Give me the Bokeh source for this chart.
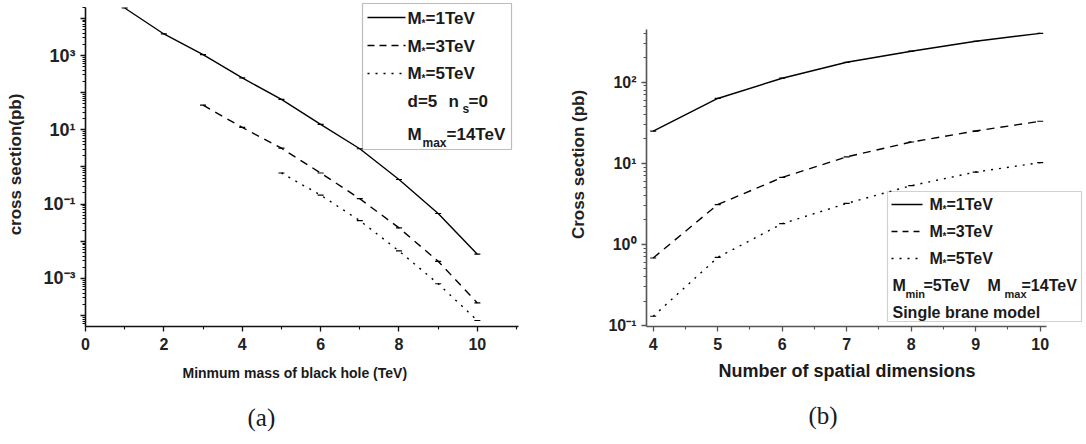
from bokeh.plotting import figure
from bokeh.layouts import row
from bokeh.models import (FixedTicker, CustomJSTickFormatter, Label, Arrow,
                          BoxAnnotation, Range1d, Title)
from bokeh.embed import file_html
from bokeh.resources import INLINE

FONT = "Liberation Sans"
SERIF = "Liberation Serif"

# ---------------- data : panel (a) ----------------
mass_m1 = [1, 2, 3, 4, 5, 6, 7, 8, 9, 10]
sigma_m1 = [1.9e4, 3.8e3, 1.05e3, 250, 66, 14, 3.1, 0.46, 0.056, 0.0045]
mass_m3 = [3, 4, 5, 6, 7, 8, 9, 10]
sigma_m3 = [46, 11.6, 3.2, 0.69, 0.14, 0.023, 0.0029, 2.2e-4]
mass_m5 = [5, 6, 7, 8, 9, 10]
sigma_m5 = [0.69, 0.175, 0.036, 0.0055, 7.2e-4, 7.4e-5]

# ---------------- data : panel (b) ----------------
dims = [4, 5, 6, 7, 8, 9, 10]
sigma_b1 = [25, 63, 112, 176, 241, 320, 400]
sigma_b3 = [0.68, 3.1, 6.7, 12, 18.3, 25, 33]
sigma_b5 = [0.13, 0.69, 1.8, 3.2, 5.3, 7.8, 10.2]

x_ticks_a = [0, 2, 4, 6, 8, 10]
x_minor_a = [1, 3, 5, 7, 9, 11]
x_ticks_b = [4, 5, 6, 7, 8, 9, 10]
x_minor_b = [4.5, 5.5, 6.5, 7.5, 8.5, 9.5]

SUP_JS = """
const e = Math.round(Math.log10(tick));
if (only_odd && e % 2 == 0) { return ""; }
const sup = {"-": "\\u207B", "0": "\\u2070", "1": "\\u00B9", "2": "\\u00B2",
             "3": "\\u00B3", "4": "\\u2074", "5": "\\u2075", "6": "\\u2076"};
let s = "10";
for (const c of String(e)) { s += sup[c]; }
return s;
"""


def log_ticker(lo, hi, top):
    major = [10.0 ** k for k in range(lo, hi + 1) if 10.0 ** k <= top]
    minor = [m * 10.0 ** k for k in range(lo, hi + 1) for m in range(2, 10)
             if m * 10.0 ** k <= top]
    return FixedTicker(ticks=major, minor_ticks=minor)


def style(p, color):
    p.outline_line_color = None
    p.grid.visible = False
    p.background_fill_color = "white"
    p.border_fill_color = "white"
    for ax in p.axis:
        ax.axis_line_color = color
        ax.axis_line_width = 1.6
        ax.major_tick_line_color = color
        ax.minor_tick_line_color = color
        ax.major_tick_line_width = 1.3
        ax.minor_tick_line_width = 1.1
        ax.major_tick_in = 0
        ax.minor_tick_in = 0
        ax.major_tick_out = 5
        ax.minor_tick_out = 3
        ax.major_label_text_font = FONT
        ax.major_label_text_font_style = "bold"
        ax.major_label_text_color = "#222222"
        ax.axis_label_text_font = FONT
        ax.axis_label_text_font_style = "bold"
        ax.axis_label_text_color = "#222222"


def bottom_title(p, text, font, style_, size, offset, standoff):
    p.add_layout(Title(text=text, text_font=font, text_font_style=style_,
                       text_font_size=f"{size}px", text_color="#1a1a1a",
                       align="left", offset=offset, standoff=standoff),
                 "below")


def draw_series(p, x, y, dash, lw=1.4):
    p.line(x, y, line_color="black", line_width=lw, line_dash=dash)
    p.scatter(x, y, marker="dash", size=6, line_color="black", line_width=1.2)


def make_text(p, FL, FB, X, Y, txt, size, align="left"):
    p.add_layout(Label(x=X - FL, y=FB - Y, x_units="screen", y_units="screen",
                       text=txt, text_font=FONT, text_font_style="bold",
                       text_font_size=f"{size}px", text_color="#1a1a1a",
                       text_align=align, text_baseline="middle"))


def make_seg(p, FL, FB, X0, X1, Y, dash, lw=1.4):
    p.add_layout(Arrow(end=None, x_start=X0 - FL, x_end=X1 - FL,
                       y_start=FB - Y, y_end=FB - Y,
                       start_units="screen", end_units="screen",
                       line_color="black", line_width=lw, line_dash=dash))


def make_box(p, FL, FB, X0, X1, Y0, Y1, color):
    p.add_layout(BoxAnnotation(left=X0 - FL, right=X1 - FL,
                               top=FB - Y0, bottom=FB - Y1,
                               left_units="screen", right_units="screen",
                               top_units="screen", bottom_units="screen",
                               fill_color=None, fill_alpha=0,
                               line_color=color, line_width=1.2))


# ======================= panel (a) =======================
FLa, FBa = 85, 326
pa = figure(width=560, height=442, x_range=Range1d(0, 11.05),
            y_range=Range1d(5.1e-5, 2.67e4), y_axis_type="log", title=None,
            output_backend="svg", toolbar_location=None,
            min_border_left=85, min_border_right=42,
            min_border_top=2, min_border_bottom=116)
style(pa, "#111111")
pa.xaxis.ticker = FixedTicker(ticks=x_ticks_a, minor_ticks=x_minor_a)
pa.yaxis.ticker = log_ticker(-5, 4, 2.0e4)
pa.yaxis.bounds = (5.1e-5, 2.0e4)
pa.yaxis.formatter = CustomJSTickFormatter(args=dict(only_odd=True), code=SUP_JS)
pa.xaxis.major_label_text_font_size = "16px"
pa.yaxis.major_label_text_font_size = "18px"
pa.xaxis.major_label_standoff = 6
pa.yaxis.major_label_standoff = 5
pa.yaxis.axis_label = "cross section(pb)"
pa.yaxis.axis_label_text_font_size = "17px"
pa.yaxis.axis_label_standoff = 15
bottom_title(pa, "Minmum mass of black hole (TeV)", FONT, "bold", 14, 97, 21)
bottom_title(pa, "(a)", SERIF, "normal", 25, 162, 20)

draw_series(pa, mass_m1, sigma_m1, "solid")
draw_series(pa, mass_m3, sigma_m3, "8 6")
draw_series(pa, mass_m5, sigma_m5, "2 6")

# legend (a)
make_box(pa, FLa, FBa, 362, 511, 3, 149, "#222222")
make_seg(pa, FLa, FBa, 367, 405, 17, "solid")
make_seg(pa, FLa, FBa, 367, 405, 45, "7 5")
make_seg(pa, FLa, FBa, 367, 405, 73, "2 6")
for yy, lab in [(18, "=1TeV"), (46, "=3TeV"), (73, "=5TeV")]:
    make_text(pa, FLa, FBa, 407, yy, "M", 17)
    make_text(pa, FLa, FBa, 421, yy + 5, "*", 10)
    make_text(pa, FLa, FBa, 425, yy, lab, 17)
make_text(pa, FLa, FBa, 407, 101, "d=5", 17)
make_text(pa, FLa, FBa, 448, 101, "n", 17)
make_text(pa, FLa, FBa, 462, 108, "s", 12)
make_text(pa, FLa, FBa, 468, 101, "=0", 17)
make_text(pa, FLa, FBa, 407, 134, "M", 17)
make_text(pa, FLa, FBa, 422, 142, "max", 12)
make_text(pa, FLa, FBa, 446, 134, "=14TeV", 17)

# ======================= panel (b) =======================
FLb, FBb = 646, 326
pb = figure(width=526, height=442, x_range=Range1d(3.896, 10.687),
            y_range=Range1d(0.0972, 961), y_axis_type="log", title=None,
            output_backend="svg", toolbar_location=None,
            min_border_left=86, min_border_right=2,
            min_border_top=2, min_border_bottom=116)
style(pb, "#555555")
pb.xaxis.ticker = FixedTicker(ticks=x_ticks_b, minor_ticks=x_minor_b)
pb.xaxis.bounds = (3.896, 10.098)
pb.yaxis.ticker = log_ticker(-1, 2, 443)
pb.yaxis.bounds = (0.0972, 443)
pb.yaxis.formatter = CustomJSTickFormatter(args=dict(only_odd=False), code=SUP_JS)
pb.xaxis.major_label_text_font_size = "16px"
pb.yaxis.major_label_text_font_size = "16px"
pb.xaxis.major_label_standoff = 6
pb.yaxis.major_label_standoff = 5
pb.yaxis.axis_label = "Cross section (pb)"
pb.yaxis.axis_label_text_font_size = "17px"
pb.yaxis.axis_label_standoff = 17
bottom_title(pb, "Number of spatial dimensions", FONT, "bold", 18, 72, 12)
bottom_title(pb, "(b)", SERIF, "normal", 25, 162, 26)

draw_series(pb, dims, sigma_b1, "solid")
draw_series(pb, dims, sigma_b3, "8 6")
draw_series(pb, dims, sigma_b5, "2 6")

# legend (b)
make_box(pb, FLb, FBb, 887, 1081, 191, 321, "#666666")
make_seg(pb, FLb, FBb, 891, 922, 204, "solid")
make_seg(pb, FLb, FBb, 891, 922, 231, "6 5")
make_seg(pb, FLb, FBb, 891, 922, 258, "2 6")
for yy, lab in [(204, "=1TeV"), (231, "=3TeV"), (258, "=5TeV")]:
    make_text(pb, FLb, FBb, 929, yy, "M", 16)
    make_text(pb, FLb, FBb, 942, yy + 5, "*", 10)
    make_text(pb, FLb, FBb, 946, yy, lab, 16)
make_text(pb, FLb, FBb, 892, 285, "M", 16)
make_text(pb, FLb, FBb, 905, 293, "min", 11)
make_text(pb, FLb, FBb, 923, 285, "=5TeV", 16)
make_text(pb, FLb, FBb, 987, 285, "M", 16)
make_text(pb, FLb, FBb, 1004, 293, "max", 11)
make_text(pb, FLb, FBb, 1021, 285, "=14TeV", 16)
make_text(pb, FLb, FBb, 892, 312, "Single brane model", 16)

layout = row(pa, pb)
open("out.html", "w").write(file_html(layout, INLINE))
